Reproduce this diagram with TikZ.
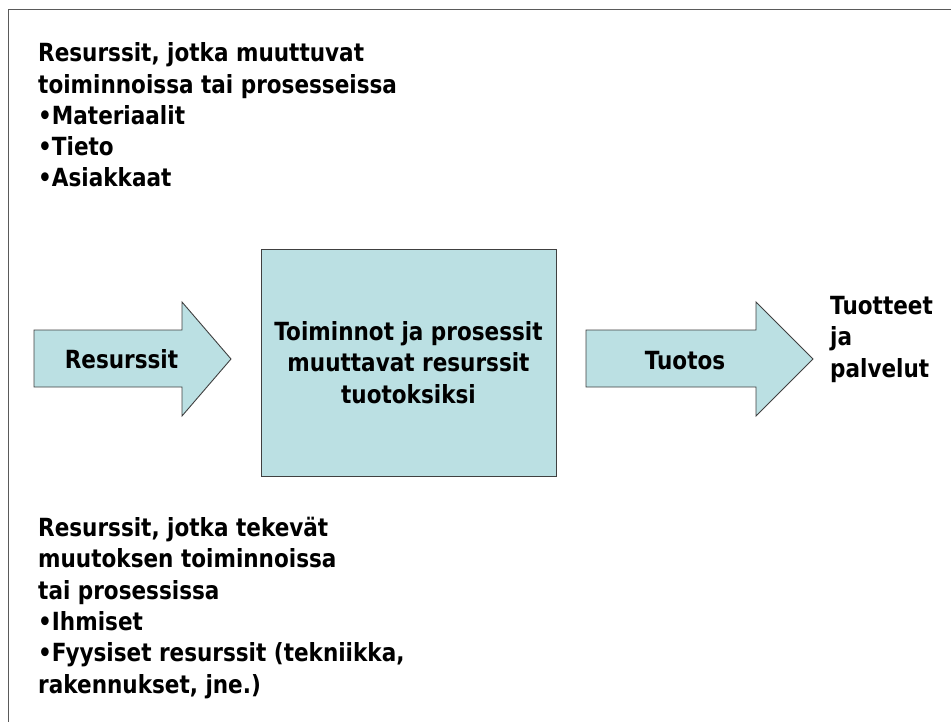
\documentclass[tikz,border=0pt]{standalone}
\usepackage{fontspec}
\setmainfont{DejaVu Sans}[FakeStretch=0.862]
\definecolor{boxfill}{HTML}{BBE0E3}
\definecolor{edge}{HTML}{404040}
\definecolor{frame}{HTML}{5A5A5A}
\tikzset{
  txt/.style={font=\bfseries\fontsize{25}{31.3}\selectfont, inner sep=0pt, text=black},
  shapefill/.style={fill=boxfill, draw=edge, line width=0.9pt, line join=miter},
}
\begin{document}
\begin{tikzpicture}[x=1pt,y=-1pt]
\useasboundingbox (0,0) rectangle (951,722);
% frame
\draw[frame, line width=1.6pt] (8.5,722) -- (8.5,9.5) -- (951,9.5);
% left arrow
\draw[shapefill] (34,330) -- (182,330) -- (182,302) -- (231,359) -- (182,416) -- (182,387) -- (34,387) -- cycle;
% process box
\node[shapefill, minimum width=295pt, minimum height=227pt, anchor=north west, inner sep=0pt] (proc) at (261,249) {};
% right arrow
\draw[shapefill] (586,330) -- (756,330) -- (756,302) -- (813,359) -- (756,416) -- (756,387) -- (586,387) -- cycle;
% labels (base anchor = baseline of the last line)
\node[txt, anchor=base] (res) at (121.5,368) {Resurssit};
\node[txt, anchor=base] (tuo) at (685,369) {Tuotos};
\node[txt, align=center, anchor=base] (proctxt) at (408.5,403) {Toiminnot ja prosessit\\muuttavat resurssit\\tuotoksiksi};
\node[txt, align=left, anchor=base west] (out) at (830,377) {Tuotteet\\ja\\palvelut};
\node[txt, align=left, anchor=base west] (top) at (38,187) {Resurssit, jotka muuttuvat\\toiminnoissa tai prosesseissa\\•Materiaalit\\•Tieto\\•Asiakkaat};
\node[txt, align=left, anchor=base west] (bot) at (38,693) {Resurssit, jotka tekevät\\muutoksen toiminnoissa\\tai prosessissa\\•Ihmiset\\•Fyysiset resurssit (tekniikka,\\rakennukset, jne.)};
\end{tikzpicture}
\end{document}
